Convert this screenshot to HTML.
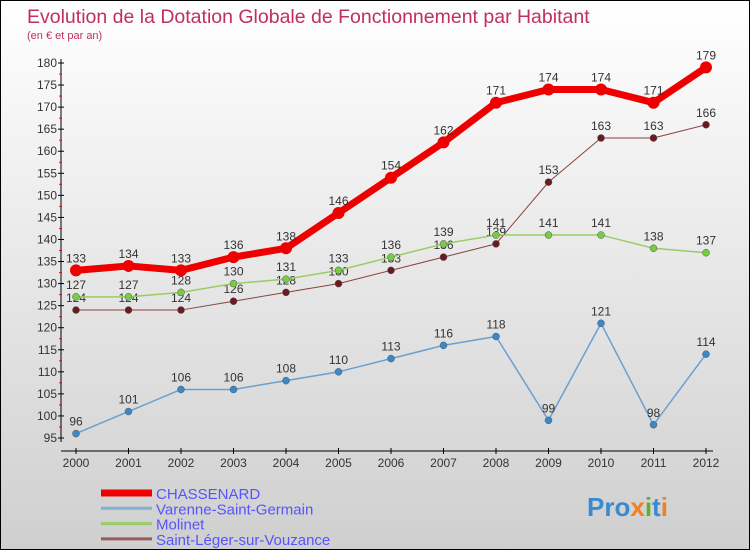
<!DOCTYPE html>
<html><head><meta charset="utf-8"><style>
body{margin:0}
#wrap{position:relative;width:748px;height:548px;border:1px solid #000;background:linear-gradient(#fff,#cfcfcf);font-family:"Liberation Sans",sans-serif;overflow:hidden}
svg{position:absolute;left:0;top:0}
</style></head><body>
<div id="wrap">
<svg id="s" width="748" height="548">
<text x="26" y="22" font-size="19.5" fill="#c0305a">Evolution de la Dotation Globale de Fonctionnement par Habitant</text>
<text x="26" y="38" font-size="11" fill="#c0305a">(en € et par an)</text>
<text x="586" y="515" font-size="26" font-weight="bold" fill="#3a8ad0">Pro<tspan fill="#f08020">x</tspan><tspan fill="#60b030">i</tspan>t<tspan fill="#f08020">i</tspan></text>
</svg>
</div>
<script>
const years=[2000,2001,2002,2003,2004,2005,2006,2007,2008,2009,2010,2011,2012];
const chassenard=[133,134,133,136,138,146,154,162,171,174,174,171,179];
const varenne=[96,101,106,106,108,110,113,116,118,99,121,98,114];
const molinet=[127,127,128,130,131,133,136,139,141,141,141,138,137];
const stleger=[124,124,124,126,128,130,133,136,139,153,163,163,166];
const yTicks=[95,100,105,110,115,120,125,130,135,140,145,150,155,160,165,170,175,180];
const names=["CHASSENARD","Varenne-Saint-Germain","Molinet","Saint-Léger-sur-Vouzance"];
const NS="http://www.w3.org/2000/svg",s=document.getElementById('s');
const X=i=>75+i*52.5, Y=v=>437-(v-95)*375/85;
function el(t,a,txt){const e=document.createElementNS(NS,t);for(const k in a)e.setAttribute(k,a[k]);if(txt!=null)e.textContent=txt;s.appendChild(e);return e;}
let e=el('line',{x1:60,y1:58,x2:60,y2:441,stroke:'#000'});

e=el('line',{x1:60,y1:450,x2:712,y2:450,stroke:'#000'});

yTicks.forEach((v,i)=>{el('line',{x1:57,y1:Y(v),x2:63,y2:Y(v),stroke:'#000'});
 e=el('text',{x:56,y:Y(v)+4,'font-size':12,'text-anchor':'end',fill:'#333'},v);
 
 if(i<yTicks.length-1)el('line',{x1:58,y1:Y(v+2.5),x2:61,y2:Y(v+2.5),stroke:'red'});});
years.forEach((y,i)=>{el('line',{x1:X(i),y1:447,x2:X(i),y2:453,stroke:'#000'});
 e=el('text',{x:X(i),y:466,'font-size':12,'text-anchor':'middle',fill:'#333'},y);
 });
function series(d,col,dot,w,r,nm){
 e=el('polyline',{points:d.map((v,i)=>X(i)+','+Y(v)).join(' '),fill:'none',stroke:col,'stroke-width':w,'stroke-linejoin':'round'});
 
 d.forEach((v,i)=>{e=el('circle',{cx:X(i),cy:Y(v),r:r,fill:dot,stroke:col==='#e00'?'none':'#555','stroke-width':0.5});
  
  e=el('text',{x:X(i),y:Y(v)-8,'font-size':12,'text-anchor':'middle',fill:'#333'},v);
  });
}
series(stleger,'#8b4040','#6a1a20',1,3.5,'saint-leger');
series(molinet,'#9c6','#7c4',1.5,3.5,'molinet');
series(varenne,'#6aa0d0','#3a88c8',1.5,3.5,'varenne');
series(chassenard,'#e00','#e00',7,6,'chassenard');
const lc=['#e00','#7fb0d8','#9c6','#9a5a5a'],lw=[7,3,3,3];
names.forEach((n,i)=>{const yy=492+i*15.3;
 e=el('line',{x1:100,y1:yy,x2:151,y2:yy,stroke:lc[i],'stroke-width':lw[i]});
 
 e=el('text',{x:155,y:yy+6,'font-size':15,fill:'#55f'},n);
 });
</script>
</body></html>
